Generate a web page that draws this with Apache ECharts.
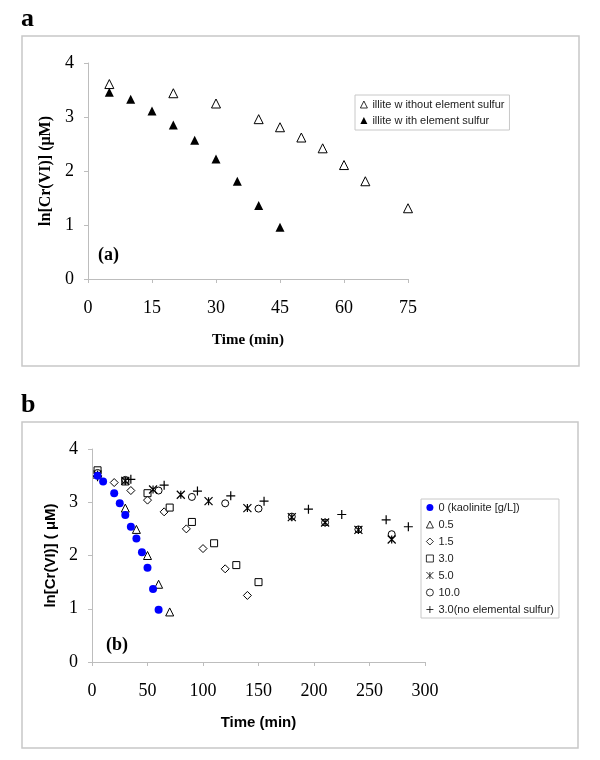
<!DOCTYPE html>
<html>
<head>
<meta charset="utf-8">
<script src="https://cdn.jsdelivr.net/npm/echarts@6/dist/echarts.min.js"></script>
<style>
html,body{margin:0;padding:0;background:#fff;}
#chart{width:600px;height:760px;}
</style>
</head>
<body>
<div id="chart"></div>
<script>
// Panel a data
const timeA_without = [5, 20, 30, 40, 45, 50, 55, 60, 65, 75];
const lnCrA_without = [3.61, 3.44, 3.25, 2.96, 2.81, 2.62, 2.42, 2.11, 1.81, 1.31];
const timeA_with = [5, 10, 15, 20, 25, 30, 35, 40, 45];
const lnCrA_with = [3.46, 3.33, 3.11, 2.85, 2.57, 2.22, 1.81, 1.36, 0.96];
const namesA = ['illite w ithout element sulfur', 'illite w ith element sulfur'];
const ticksA_x = [0, 15, 30, 45, 60, 75];

// Panel b data
const namesB = ['0 (kaolinite [g/L])', '0.5', '1.5', '3.0', '5.0', '10.0', '3.0(no elemental sulfur)'];
const timeB_0 = [5, 10, 20, 25, 30, 35, 40, 45, 50, 55, 60];
const lnCrB_0 = [3.50, 3.39, 3.17, 2.98, 2.76, 2.54, 2.32, 2.06, 1.77, 1.37, 0.98];
const timeB_05 = [5, 30, 40, 50, 60, 70];
const lnCrB_05 = [3.55, 2.89, 2.49, 2.00, 1.46, 0.94];
const timeB_15 = [5, 20, 35, 50, 65, 85, 100, 120, 140];
const lnCrB_15 = [3.50, 3.37, 3.22, 3.04, 2.82, 2.50, 2.13, 1.75, 1.25];
const timeB_30 = [5, 30, 50, 70, 90, 110, 130, 150];
const lnCrB_30 = [3.60, 3.39, 3.17, 2.90, 2.63, 2.23, 1.82, 1.50];
const timeB_50 = [5, 30, 55, 80, 105, 140, 180, 210, 240, 270];
const lnCrB_50 = [3.52, 3.40, 3.24, 3.14, 3.02, 2.89, 2.72, 2.62, 2.48, 2.30];
const timeB_100 = [5, 30, 60, 90, 120, 150, 180, 210, 240, 270];
const lnCrB_100 = [3.55, 3.42, 3.22, 3.10, 2.98, 2.88, 2.73, 2.62, 2.49, 2.40];
const timeB_30noS = [5, 35, 65, 95, 125, 155, 195, 225, 265, 285];
const lnCrB_30noS = [3.48, 3.43, 3.32, 3.21, 3.12, 3.02, 2.87, 2.77, 2.67, 2.54];

function pairs(xs, ys) { return xs.map((x, i) => [x, ys[i]]); }

const serif = '"Liberation Serif", "Times New Roman", serif';
const sans = '"Liberation Sans", Arial, sans-serif';
const axisGray = '#bdbdbd';
const openStyle = { color: '#ffffff', borderColor: '#000000', borderWidth: 1, opacity: 1 };
const strokeStyle = { color: 'rgba(0,0,0,0)', borderColor: '#000000', borderWidth: 1.2, opacity: 1 };
const asteriskPath = 'path://M0,0L10,10M10,0L0,10M5,0L5,10';
const plusPath = 'path://M5,0L5,10M0,5L10,5';

function yAxisCfg(gridIndex, name, nameFont, nameGap) {
  return {
    gridIndex: gridIndex, type: 'value', min: 0, max: 4, interval: 1,
    name: name, nameLocation: 'middle', nameGap: nameGap,
    nameTextStyle: { fontFamily: nameFont, fontWeight: 'bold', fontSize: nameFont === serif ? 16 : 15, color: '#000' },
    axisLine: { show: true, lineStyle: { color: axisGray, width: 1 } },
    axisTick: { show: true, length: 4, lineStyle: { color: axisGray } },
    axisLabel: { fontFamily: serif, fontSize: 18, color: '#000', margin: 14 },
    splitLine: { show: false }
  };
}
function xAxisCfg(gridIndex, max, interval, name, nameFont, nameGap) {
  return {
    gridIndex: gridIndex, type: 'value', min: 0, max: max, interval: interval,
    name: name, nameLocation: 'middle', nameGap: nameGap,
    nameTextStyle: { fontFamily: nameFont, fontWeight: 'bold', fontSize: 15, color: '#000' },
    axisLine: { show: true, onZero: false, lineStyle: { color: axisGray, width: 1 } },
    axisTick: { show: true, length: 4, lineStyle: { color: axisGray } },
    axisLabel: { fontFamily: serif, fontSize: 18, color: '#000', margin: 20 },
    splitLine: { show: false }
  };
}

const chart = echarts.init(document.getElementById('chart'), null, { renderer: 'canvas' });
const option = {
  animation: false,
  backgroundColor: '#ffffff',
  grid: [
    { left: 88, top: 63, right: 192, bottom: 481, containLabel: false, outerBoundsMode: 'none' },
    { left: 92, top: 449, right: 175, bottom: 98, containLabel: false, outerBoundsMode: 'none' }
  ],
  xAxis: [
    xAxisCfg(0, ticksA_x[ticksA_x.length - 1], ticksA_x[1] - ticksA_x[0], 'Time (min)', serif, 54),
    xAxisCfg(1, 300, 50, 'Time (min)', sans, 53)
  ],
  yAxis: [
    yAxisCfg(0, 'ln[Cr(VI)] (\u03bcM)', serif, 33),
    yAxisCfg(1, 'ln[Cr(VI)] ( \u03bcM)', sans, 32)
  ],
  legend: [
    {
      data: namesA, orient: 'vertical', left: 355, top: 95,
      padding: [4, 5], itemGap: 5, itemWidth: 7, itemHeight: 7,
      itemStyle: { borderWidth: 0.8 },
      borderColor: '#c8c8c8', borderWidth: 1,
      textStyle: { fontFamily: sans, fontSize: 11, color: '#222' }
    },
    {
      data: namesB, orient: 'vertical', left: 421, top: 499,
      padding: [3, 5], itemGap: 6, itemWidth: 7, itemHeight: 7,
      itemStyle: { borderWidth: 0.8 },
      borderColor: '#c8c8c8', borderWidth: 1,
      textStyle: { fontFamily: sans, fontSize: 11, color: '#222' }
    }
  ],
  graphic: [
    { type: 'rect', shape: { x: 22, y: 36, width: 557, height: 330 }, style: { fill: 'none', stroke: '#c8c8c8', lineWidth: 1.5 }, z: -1 },
    { type: 'rect', shape: { x: 22, y: 422, width: 556, height: 326 }, style: { fill: 'none', stroke: '#c8c8c8', lineWidth: 1.5 }, z: -1 },
    { type: 'text', left: 21, top: 6, style: { text: 'a', font: 'bold 26px ' + serif, fill: '#000' } },
    { type: 'text', left: 21, top: 392, style: { text: 'b', font: 'bold 26px ' + serif, fill: '#000' } },
    { type: 'text', left: 98, top: 246, style: { text: '(a)', font: 'bold 18px ' + serif, fill: '#000' } },
    { type: 'text', left: 106, top: 636, style: { text: '(b)', font: 'bold 18px ' + serif, fill: '#000' } }
  ],
  series: [
    { name: namesA[0], type: 'scatter', xAxisIndex: 0, yAxisIndex: 0, symbol: 'triangle', symbolSize: 9, itemStyle: openStyle, data: pairs(timeA_without, lnCrA_without) },
    { name: namesA[1], type: 'scatter', xAxisIndex: 0, yAxisIndex: 0, symbol: 'triangle', symbolSize: 9, itemStyle: { color: '#000', opacity: 1 }, data: pairs(timeA_with, lnCrA_with) },

    { name: namesB[0], type: 'scatter', xAxisIndex: 1, yAxisIndex: 1, symbol: 'circle', symbolSize: 8, itemStyle: { color: '#0000ff', opacity: 1 }, data: pairs(timeB_0, lnCrB_0), z: 3 },
    { name: namesB[1], type: 'scatter', xAxisIndex: 1, yAxisIndex: 1, symbol: 'triangle', symbolSize: 8, itemStyle: openStyle, data: pairs(timeB_05, lnCrB_05) },
    { name: namesB[2], type: 'scatter', xAxisIndex: 1, yAxisIndex: 1, symbol: 'diamond', symbolSize: 8, itemStyle: openStyle, data: pairs(timeB_15, lnCrB_15) },
    { name: namesB[3], type: 'scatter', xAxisIndex: 1, yAxisIndex: 1, symbol: 'rect', symbolSize: 7, itemStyle: openStyle, data: pairs(timeB_30, lnCrB_30) },
    { name: namesB[4], type: 'scatter', xAxisIndex: 1, yAxisIndex: 1, symbol: asteriskPath, symbolSize: 8, itemStyle: strokeStyle, data: pairs(timeB_50, lnCrB_50) },
    { name: namesB[5], type: 'scatter', xAxisIndex: 1, yAxisIndex: 1, symbol: 'circle', symbolSize: 7, itemStyle: { color: 'rgba(0,0,0,0)', borderColor: '#000', borderWidth: 1, opacity: 1 }, data: pairs(timeB_100, lnCrB_100) },
    { name: namesB[6], type: 'scatter', xAxisIndex: 1, yAxisIndex: 1, symbol: plusPath, symbolSize: 9, itemStyle: strokeStyle, data: pairs(timeB_30noS, lnCrB_30noS) }
  ]
};
chart.setOption(option);
</script>
</body>
</html>
